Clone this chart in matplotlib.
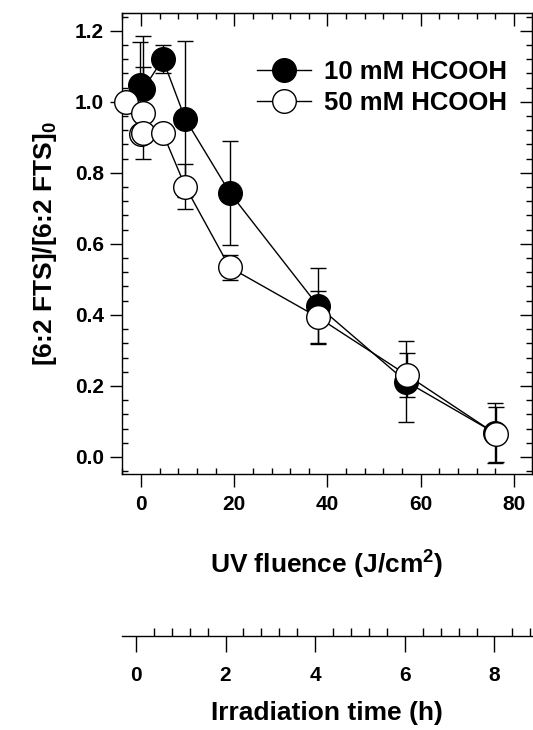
import matplotlib
matplotlib.use("Agg")
import matplotlib.pyplot as plt
from matplotlib.lines import Line2D
from matplotlib.ticker import MultipleLocator

plt.rcParams['font.family'] = ['Liberation Sans', 'DejaVu Sans']
plt.rcParams['font.weight'] = 'bold'
plt.rcParams['axes.labelweight'] = 'bold'
plt.rcParams['mathtext.fontset'] = 'custom'
plt.rcParams['mathtext.bf'] = 'Liberation Sans:bold'
plt.rcParams['mathtext.rm'] = 'Liberation Sans:bold'
plt.rcParams['mathtext.default'] = 'bf'

# 10 mM HCOOH
fluence_10 = [-0.2, 0.5, 4.65, 9.5, 19.1, 38.0, 56.9, 76.0]
ratio_10 = [1.048, 1.036, 1.12, 0.951, 0.743, 0.425, 0.212, 0.067]
err_10 = [0.12, 0.15, 0.04, 0.22, 0.147, 0.108, 0.114, 0.085]

# 50 mM HCOOH
fluence_50 = [-3.3, 0.3, -0.1, 0.5, 4.65, 9.5, 19.0, 38.0, 57.0, 76.2]
ratio_50 = [1.0, 0.968, 0.910, 0.912, 0.912, 0.761, 0.534, 0.393, 0.231, 0.064]
err_50 = [0.0, 0.13, 0.0, 0.0, 0.0, 0.063, 0.035, 0.073, 0.061, 0.077]

fluence_ticks = [0, 20, 40, 60, 80]
time_ticks = [0, 2, 4, 6, 8]

W, H = 533, 730
fig = plt.figure(figsize=(W / 100, H / 100), dpi=100)

# main panel, box in pixels: x 122..532, y 13..474
ax = fig.add_axes([122 / W, 1 - 474 / H, 410 / W, 461 / H])

lw = 1.0
ms = 17
series = [(fluence_10, ratio_10, err_10, 'black', 2),
          (fluence_50, ratio_50, err_50, 'white', 3)]
for xs, ys, es, face, z in series:
    line, caps, bars = ax.errorbar(xs, ys, yerr=es, fmt='-o', color='black',
                                   mfc=face, mec='black', ms=ms, mew=1.0,
                                   lw=lw, elinewidth=lw, capsize=6,
                                   capthick=lw, zorder=z)
    line.set_clip_on(False)

ax.set_xlim(-4.1, 83.9)
ax.set_ylim(-0.048, 1.25)
ax.set_xticks(fluence_ticks)
ax.xaxis.set_minor_locator(MultipleLocator(4))
ax.yaxis.set_major_locator(MultipleLocator(0.2))
ax.yaxis.set_minor_locator(MultipleLocator(0.04))
for s in ax.spines.values():
    s.set_linewidth(1.0)

ax.tick_params(which='major', direction='out', length=9, width=1.0,
               labelsize=15, pad=6)
ax.tick_params(which='minor', direction='in', length=4.5, width=1.0)
ax.tick_params(axis='y', which='major', pad=4)

# inward ticks on the top and right edges
top = ax.secondary_xaxis('top')
top.set_xticks(fluence_ticks)
top.xaxis.set_minor_locator(MultipleLocator(4))
top.tick_params(which='major', direction='in', length=9, width=1.0,
                labeltop=False)
top.tick_params(which='minor', direction='in', length=4.5, width=1.0)
right = ax.secondary_yaxis('right')
right.yaxis.set_major_locator(MultipleLocator(0.2))
right.yaxis.set_minor_locator(MultipleLocator(0.04))
right.tick_params(which='major', direction='in', length=9, width=1.0,
                  labelright=False)
right.tick_params(which='minor', direction='in', length=4, width=1.0)

ax.set_xlabel('UV fluence (J/cm$^2$)', fontsize=19, fontweight='bold')
ax.xaxis.set_label_coords(0.5, -0.197)
ax.xaxis.label.set_va('center')
ax.set_ylabel('[6:2 FTS]/[6:2 FTS]$_0$', fontsize=19, fontweight='bold')
ax.yaxis.set_label_coords(-0.188, 0.5)
ax.yaxis.label.set_va('center')

handles = [Line2D([], [], color='black', marker='o', mfc='black', mec='black',
                  ms=ms, mew=1.0, lw=lw),
           Line2D([], [], color='black', marker='o', mfc='white', mec='black',
                  ms=ms, mew=1.0, lw=lw)]
ax.legend(handles, ['10 mM HCOOH', '50 mM HCOOH'], loc='center left',
          bbox_to_anchor=(257 / W, 1 - 87.5 / H),
          bbox_transform=fig.transFigure, frameon=False, fontsize=18.5,
          handlelength=2.1, handletextpad=0.5, labelspacing=0.3,
          borderpad=0, borderaxespad=0, numpoints=1)

# irradiation time axis below
ax2 = fig.add_axes([122 / W, 1 - 636 / H, 411 / W, 0.001])
ax2.patch.set_visible(False)
for side in ['left', 'right', 'top']:
    ax2.spines[side].set_visible(False)
ax2.spines['bottom'].set_linewidth(1.0)
ax2.set_yticks([])
ax2.set_xlim(-0.31, 8.86)
ax2.set_xticks(time_ticks)
ax2.xaxis.set_minor_locator(MultipleLocator(0.4))
ax2.tick_params(which='major', direction='out', length=11.5, width=1.0,
                labelsize=15, pad=10)
ax2.tick_params(which='minor', direction='in', length=5.5, width=1.0)
fig.text(327 / W, 1 - 713 / H, 'Irradiation time (h)', fontsize=19,
         fontweight='bold', ha='center', va='center')

fig.savefig('out.png', dpi=100)
